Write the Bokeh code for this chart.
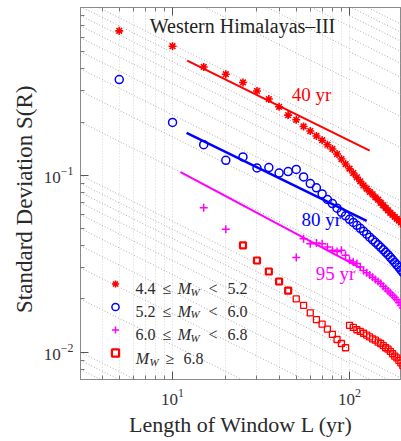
import math
from bokeh.plotting import figure
from bokeh.models import (Range1d, LogAxis, Label, Legend, LegendItem, FixedTicker,
                          LogTickFormatter)
from bokeh.core.properties import value
from bokeh.embed import file_html
from bokeh.resources import INLINE

# ---------------- data ----------------
# 4.4 <= Mw < 5.2  (red asterisks)
L_a = [5, 10, 15, 20, 25, 30, 35, 40, 45, 50, 55, 60, 65, 70, 75, 80, 85, 90, 95, 100,
       105, 110, 115, 120, 125, 130, 135, 140, 145, 150, 155, 160, 165, 170, 175, 180, 185, 190, 195, 200]
S_a = [0.656, 0.537, 0.410, 0.373, 0.335, 0.300, 0.270, 0.244, 0.219, 0.206, 0.189, 0.178, 0.167, 0.158,
       0.149, 0.141, 0.132, 0.1236, 0.1158, 0.109, 0.103, 0.0974, 0.0925, 0.0878, 0.0840, 0.0807, 0.0781,
       0.0751, 0.0728, 0.0700, 0.0677, 0.0655, 0.0634, 0.0614, 0.0598, 0.0583, 0.0568, 0.0555, 0.0542, 0.0528]

# 5.2 <= Mw < 6.0  (blue circles)
L_b = [5, 10, 15, 20, 25, 30, 35, 40, 45, 50, 55, 60, 65, 70, 75, 80, 85, 90, 95, 100,
       105, 110, 115, 120, 125, 130, 135, 140, 145, 150, 155, 160, 165, 170, 175, 180, 185, 190, 195, 200]
S_b = [0.348, 0.199, 0.149, 0.1216, 0.127, 0.110, 0.1106, 0.103, 0.105, 0.108, 0.098, 0.0898, 0.0850,
       0.0785, 0.0730, 0.0692, 0.0652, 0.0618, 0.0590, 0.0564, 0.0542, 0.0522, 0.0502, 0.0483, 0.0465,
       0.0447, 0.0432, 0.0418, 0.0405, 0.0392, 0.0379, 0.0367, 0.0356, 0.0344, 0.0333, 0.0322, 0.0312,
       0.0302, 0.0292, 0.0283]

# 6.0 <= Mw < 6.8  (magenta crosses)
L_c = [15, 20, 50, 55, 60, 65, 70, 75, 80, 85, 90, 95, 100, 105, 110, 115, 120, 125, 130, 135, 140,
       145, 150, 155, 160, 165, 170, 175, 180, 185, 190, 195, 200]
S_c = [0.0656, 0.0496, 0.0343, 0.0438, 0.0411, 0.0415, 0.0411, 0.0394, 0.0377, 0.0371, 0.0377, 0.0353,
       0.0331, 0.0324, 0.0317, 0.0303, 0.0290, 0.0281, 0.0273, 0.0265, 0.0258, 0.0251, 0.0245, 0.0236,
       0.0229, 0.0222, 0.0216, 0.0210, 0.0204, 0.0198, 0.0191, 0.0184, 0.0178]

# Mw >= 6.8  (red squares)
L_d = [25, 30, 35, 40, 45, 50, 55, 60, 65, 70, 75, 80, 85, 90, 95,
       100, 105, 110, 115, 120, 125, 130, 135, 140, 145, 150, 155, 160, 165, 170, 175, 180, 185, 190, 195, 200]
S_d = [0.0402, 0.0330, 0.0286, 0.0251, 0.0223, 0.0200, 0.0184, 0.0167, 0.0153, 0.0144, 0.0135, 0.0126,
       0.0118, 0.0112, 0.0106,
       0.0142, 0.0138, 0.0134, 0.0131, 0.0128, 0.0125, 0.0122, 0.0119, 0.0117, 0.0114, 0.0112, 0.0109,
       0.0106, 0.0104, 0.0101, 0.0098, 0.0095, 0.0093, 0.0090, 0.0087, 0.0084]

# fitted lines (end points) and their labels
fit40_L, fit40_S = [12.1, 130], [0.445, 0.138]
fit80_L, fit80_S = [12.0, 125], [0.174, 0.0553]
fit95_L, fit95_S = [11.1, 115], [0.1044, 0.0300]
fit_labels = ["40 yr", "80 yr", "95 yr"]
fit_label_L = [61, 69.3, 83.4]
fit_label_S = [0.287, 0.0562, 0.0278]

title_text = "Western Himalayas\u2013III"
x_label = "Length of Window L (yr)"
y_label = "Standard Deviation   S(R)"

# tick positions
x_major = [10, 100]
x_minor = [3, 4, 5, 6, 7, 8, 9, 20, 30, 40, 50, 60, 70, 80, 90, 200]
y_major = [0.01, 0.1]
y_minor = [0.007, 0.008, 0.009, 0.02, 0.03, 0.04, 0.05, 0.06, 0.07, 0.08, 0.09,
           0.2, 0.3, 0.4, 0.5, 0.6, 0.7, 0.8]

# ---------------- figure ----------------
X0, X1 = 3.02, 196.6
Y0, Y1 = 0.00701, 0.889
SERIF = "Liberation Serif"
RED, BLUE, MAG = "#ff0000", "#0000ff", "#ff00ff"
AXC = "#8a8a8a"

p = figure(width=401, height=441, x_axis_type="log", y_axis_type="log",
           x_range=Range1d(X0, X1), y_range=Range1d(Y0, Y1),
           output_backend="svg", toolbar_location=None,
           min_border_left=80, min_border_right=0, min_border_top=7, min_border_bottom=62)
p.background_fill_color = "white"
p.border_fill_color = "white"
p.outline_line_color = AXC

xt = FixedTicker(ticks=x_major, minor_ticks=x_minor)
yt = FixedTicker(ticks=y_major, minor_ticks=y_minor)
p.xaxis.ticker = xt
p.yaxis.ticker = yt
p.xaxis.formatter = LogTickFormatter()
p.yaxis.formatter = LogTickFormatter()

for ax in (p.xaxis[0], p.yaxis[0]):
    ax.axis_line_color = AXC
    ax.major_tick_line_color = "#555555"
    ax.minor_tick_line_color = "#777777"
    ax.major_tick_in = 8
    ax.major_tick_out = 0
    ax.minor_tick_in = 4
    ax.minor_tick_out = 0
    ax.major_label_text_font = SERIF
    ax.major_label_text_font_size = "17px"
    ax.major_label_text_color = "#333333"
    ax.axis_label_text_font = SERIF
    ax.axis_label_text_font_style = "normal"
    ax.axis_label_text_color = "#2a2a2a"
p.xaxis.axis_label_text_font_size = "22px"
p.yaxis.axis_label_text_font_size = "23px"
p.xaxis.major_label_standoff = 9
p.yaxis.major_label_standoff = 7
p.xaxis.axis_label = x_label
p.yaxis.axis_label = y_label
p.xaxis.axis_label_standoff = 4
p.yaxis.axis_label_standoff = 4

top_axis = LogAxis(ticker=xt, major_label_text_font_size="1px", major_label_standoff=0,
                   major_tick_in=8, major_tick_out=0, minor_tick_in=4, minor_tick_out=0,
                   axis_line_color=AXC, major_tick_line_color="#555555",
                   minor_tick_line_color="#777777", major_label_text_color=None)
p.add_layout(top_axis, "above")

# grid: vertical dotted lines only
p.xgrid.ticker = xt
p.xgrid.grid_line_color = "#d6d6d6"
p.xgrid.grid_line_dash = "1 2"
p.xgrid.minor_grid_line_color = "#d6d6d6"
p.xgrid.minor_grid_line_dash = "1 2"
p.ygrid.visible = False

# diagonal dotted guide lines of slope -1/2
guide_vals = [k * 10.0 ** n for n in range(-3, 1) for k in range(1, 10)]
gx, gy = [], []
for v in guide_vals:
    gx.append([X0, 100]); gy.append([v, v * (100 / X0) ** -0.5])
    gx.append([100, 260]); gy.append([v, v * (260 / 100) ** -0.5])
p.multi_line(gx, gy, line_color="#ababab", line_dash="1 2", line_width=1)

# fitted lines
p.line(fit40_L, fit40_S, line_color=RED, line_width=2)
p.line(fit80_L, fit80_S, line_color=BLUE, line_width=2.5)
p.line(fit95_L, fit95_S, line_color=MAG, line_width=2)

# data markers
rd = p.scatter(L_d[:5], S_d[:5], marker="square", size=6, line_color=RED, fill_color=None, line_width=2.2)
p.scatter(L_d[5:], S_d[5:], marker="square", size=6, line_color=RED, fill_color=None, line_width=1.3)
rc = p.scatter(L_c, S_c, marker="cross", size=8, line_color=MAG, line_width=1.5)
rb = p.scatter(L_b, S_b, marker="circle", size=8, line_color=BLUE, fill_color=None, line_width=1.5)
ra = p.scatter(L_a, S_a, marker="asterisk", size=8, line_color=RED, line_width=1.6)

for txt, lx, ly, col in zip(fit_labels, fit_label_L, fit_label_S, [RED, BLUE, MAG]):
    p.add_layout(Label(x=lx, y=ly, text=txt, text_font=SERIF, text_font_size="19px",
                       text_color=col, text_align="center", text_baseline="middle"))

# title inside the frame
p.add_layout(Label(x=162, y=354, x_units="screen", y_units="screen", text=title_text,
                   text_font=SERIF, text_font_size="20px", text_color="#222222",
                   text_align="center", text_baseline="middle"))

# legend swatches
legend = Legend(items=[LegendItem(label=value(" "), renderers=[ra]),
                       LegendItem(label=value(" "), renderers=[rb]),
                       LegendItem(label=value(" "), renderers=[rc]),
                       LegendItem(label=value(" "), renderers=[rd])],
                location=(26, 15), glyph_width=18, glyph_height=23, label_height=23,
                label_width=5, spacing=0, padding=0, margin=0,
                border_line_color=None, background_fill_alpha=0, label_text_font_size="8px")
p.add_layout(legend)

def piece(x, y, t, size="16px", style="normal", align="center"):
    p.add_layout(Label(x=x, y=y, x_units="screen", y_units="screen", text=t, text_font=SERIF,
                       text_font_size=size, text_font_style=style, text_color="#2a2a2a",
                       text_align=align, text_baseline="alphabetic"))

# legend texts (frame-relative pixels)
rows = [(90.7, "4.4", "5.2"), (68.4, "5.2", "6.0"), (45.0, "6.0", "6.8")]
for yb, lo, hi in rows:
    piece(65, yb, lo)
    piece(86.4, yb, "\u2264")
    piece(104, yb, "M", style="italic")
    piece(114.6, yb - 3, "W", size="11px", style="italic")
    piece(132.5, yb, "<")
    piece(157, yb, hi)
yb = 20.7
piece(62, yb, "M", style="italic")
piece(73.7, yb - 3, "W", size="11px", style="italic")
piece(89.5, yb, "\u2265")
piece(113, yb, "6.8")

open("out.html", "w").write(file_html(p, INLINE))
